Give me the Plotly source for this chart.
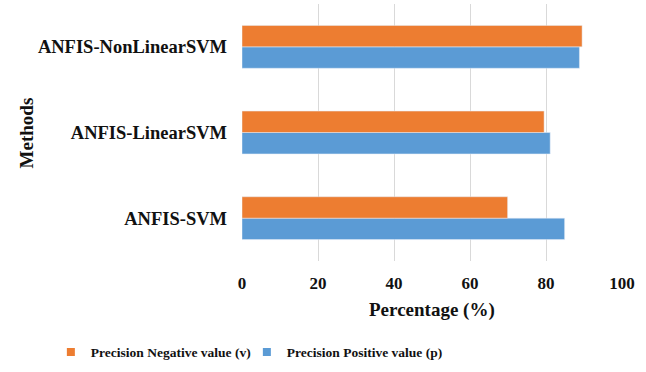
import plotly.graph_objects as go

methods = ["ANFIS-SVM", "ANFIS-LinearSVM", "ANFIS-NonLinearSVM"]
precision_positive = [84.9, 81.1, 88.8]
precision_negative = [69.9, 79.5, 89.5]
x_ticks = [0, 20, 40, 60, 80, 100]

font_family = "Liberation Serif, Times New Roman, serif"
blue = "#5b9bd5"
orange = "#ed7d31"

fig = go.Figure()
fig.add_trace(go.Bar(
    y=methods, x=precision_positive, orientation="h",
    name="Precision Positive value (p)", marker_color=blue, showlegend=False,
))
fig.add_trace(go.Bar(
    y=methods, x=precision_negative, orientation="h",
    name="Precision Negative value (v)", marker_color=orange, showlegend=False,
))
# legend entries with small square markers
fig.add_trace(go.Scatter(
    x=[None], y=[None], mode="markers", name="<b>Precision Positive value (p)</b>",
    marker=dict(symbol="square", size=8, color=blue),
))
fig.add_trace(go.Scatter(
    x=[None], y=[None], mode="markers", name="<b>Precision Negative value (v)</b>",
    marker=dict(symbol="square", size=8, color=orange),
))

fig.update_layout(
    width=646, height=372,
    margin=dict(l=242, r=24, t=4, b=108),
    barmode="group", bargap=0.5, bargroupgap=0,
    paper_bgcolor="white", plot_bgcolor="white",
    font=dict(family=font_family, size=15, color="#111111"),
    showlegend=True,
    legend=dict(
        orientation="h", traceorder="reversed",
        x=-0.503, xanchor="left", y=-0.4154, yanchor="bottom",
        font=dict(family=font_family, size=13.5, color="#111111"),
        itemwidth=30, entrywidth=151, entrywidthmode="pixels",
    ),
    xaxis=dict(
        range=[0, 100], tickvals=x_ticks,
        ticktext=[f"<b>{t}</b>" for t in x_ticks],
        tickfont=dict(size=17),
        showgrid=True, gridcolor="#d9d9d9", gridwidth=1,
        zeroline=False, showline=False,
        ticklabelstandoff=10, automargin=False,
    ),
    yaxis=dict(
        tickvals=methods, ticktext=[f"<b>{m}</b>" for m in methods],
        tickfont=dict(size=18.5),
        showgrid=False, zeroline=False, showline=False,
        ticklabelstandoff=14, automargin=False,
    ),
    annotations=[
        dict(text="<b>Percentage (%)</b>", xref="paper", yref="paper",
             x=0.5, y=-0.19, xanchor="center", yanchor="middle",
             showarrow=False, font=dict(family=font_family, size=19)),
        dict(text="<b>Methods</b>", xref="paper", yref="paper",
             x=-0.566, y=0.5, xanchor="center", yanchor="middle",
             textangle=-90, showarrow=False,
             font=dict(family=font_family, size=19)),
    ],
)

fig.write_html("out.html", config={"displayModeBar": False},
               post_script="document.body.style.margin='0';")
